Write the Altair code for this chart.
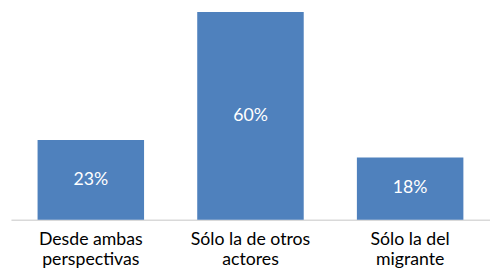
import altair as alt
import pandas as pd

categories = ["Desde ambas|perspectivas", "Sólo la de otros|actores", "Sólo la del|migrante"]
values = [23, 60, 18]

df = pd.DataFrame({"cat": categories, "value": values})
df["label"] = df["value"].astype(str) + "%"
df["mid"] = df["value"] / 2

FONT = "Lato"

x = alt.X("cat:N", sort=categories,
          scale=alt.Scale(paddingInner=0.333, paddingOuter=0.1667),
          axis=alt.Axis(title=None, labelAngle=0, labelExpr="split(datum.label, '|')",
                        labelFont=FONT, labelFontSize=18, labelColor="#000000",
                        labelLineHeight=21, labelPadding=11, ticks=False,
                        domainColor="#d9d9d9", domainWidth=1.5, labelBaseline="top"))

bars = alt.Chart(df).mark_bar(color="#4f81bd").encode(
    x=x,
    y=alt.Y("value:Q", scale=alt.Scale(domain=[0, 60], nice=False), axis=None),
)

text = alt.Chart(df).mark_text(color="white", font=FONT, fontSize=18, baseline="middle").encode(
    x=alt.X("cat:N", sort=categories),
    y=alt.Y("mid:Q"),
    text="label:N",
)

chart = (bars + text).properties(
    width=487, height=211,
    autosize=alt.AutoSizeParams(type="none"),
    padding={"left": 3, "top": 2, "right": 0, "bottom": 50},
).configure_view(stroke=None)

chart.save("out.html", embed_options={"renderer": "svg", "actions": False})
